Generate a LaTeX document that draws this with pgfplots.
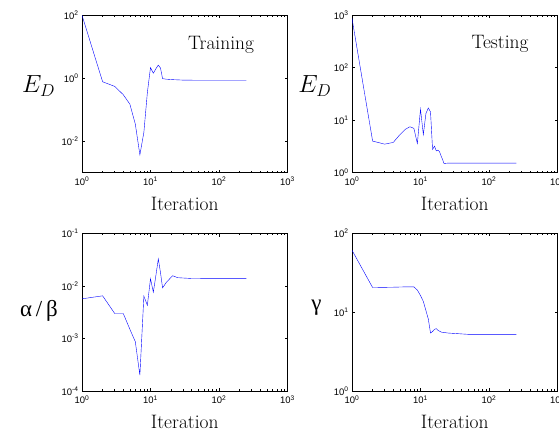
\documentclass[border=0pt]{standalone}
\usepackage{pgfplots}
\pgfplotsset{compat=1.18}
\usepackage{fontspec}
\newfontfamily\tf{Liberation Sans}
\newfontfamily\gf{Liberation Serif}
\newcommand{\tl}[1]{{\tf 10\textsuperscript{#1}}}
\newcommand{\bigf}{\fontsize{19.5}{22}\selectfont}
\begin{document}
\begin{tikzpicture}
\path[use as bounding box] (0bp,0bp) rectangle (559bp,432bp);
\pgfplotsset{
  every axis/.append style={
    scale only axis, width=205.5bp, height=157.5bp,
    xmode=log, ymode=log, xmin=1, xmax=1000,
    axis line style={line width=0.8pt},
    every tick/.style={black, line width=0.5pt},
    major tick length=3bp, minor tick length=1.6bp,
    yminorticks=false,
    tick align=inside,
    xtick={1,10,100,1000},
    xticklabels={\tl{0},\tl{1},\tl{2},\tl{3}},
    tick label style={font=\fontsize{9.5}{10}\selectfont},
    xticklabel style={yshift=-1bp},
    xlabel={Iteration},
    every axis x label/.style={at={(axis description cs:0.5,-0.152)}, anchor=north, inner sep=0pt, font=\bigf},
    every axis y label/.style={anchor=east, inner sep=0pt},
    no markers,
    cycle list={{blue, line width=0.8pt}},
  },
}
% Panel 1: Training E_D
\begin{axis}[at={(82bp,259.3bp)}, anchor=south west,
  ymin=1e-3, ymax=1e2, ytick={1e-2,1,1e2},
  yticklabels={\tl{-2},\tl{0},\tl{2}},
  ylabel={\fontsize{23}{25}\selectfont $E_D$},
  every axis y label/.append style={at={(axis description cs:-0.13,0.55)}}]
\addplot coordinates {
(1,100) (2,0.77) (3,0.55) (4,0.30) (5,0.15) (6,0.035) (7,0.0037) (8,0.019)
(9,0.35) (10,2.17) (11,1.44) (12,2.0) (13,2.6) (14,2.1) (15,0.97) (17,0.93)
(21,0.9) (30,0.87) (50,0.86) (100,0.86) (250,0.86)};
\node[anchor=base west, inner sep=0pt, font=\bigf] at (rel axis cs:0.516,0.782) {Training};
\end{axis}
% Panel 2: Testing E_D
\begin{axis}[at={(352bp,259.3bp)}, anchor=south west,
  ymin=1, ymax=1000, ytick={1,10,100,1000},
  yticklabels={\tl{0},\tl{1},\tl{2},\tl{3}},
  ylabel={\fontsize{23}{25}\selectfont $E_D$},
  every axis y label/.append style={at={(axis description cs:-0.1,0.55)}}]
\addplot coordinates {
(1,870) (2,4.0) (3,3.5) (4,3.77) (5,5.3) (6,6.7) (7,7.5) (8,7.0) (9,3.6)
(10,16.2) (11,5.3) (12,13.4) (13,17.1) (14,14.4) (15,2.77) (16,3.2) (17,2.6)
(18,2.7) (19,2.5) (20,2.07) (21,1.79) (22,1.5) (25,1.52) (50,1.52) (100,1.52) (250,1.52)};
\node[anchor=base west, inner sep=0pt, font=\bigf] at (rel axis cs:0.581,0.789) {Testing};
\end{axis}
% Panel 3: alpha/beta
\begin{axis}[at={(82bp,41bp)}, anchor=south west,
  ymin=1e-4, ymax=1e-1, ytick={1e-4,1e-3,1e-2,1e-1},
  yticklabels={\tl{-4},\tl{-3},\tl{-2},\tl{-1}},
  ylabel={\fontsize{23}{25}\gf α\,/\,β},
  every axis y label/.append style={at={(axis description cs:-0.117,0.51)}}]
\addplot coordinates {
(1,0.0057) (2,0.0065) (3,0.0030) (4,0.0030) (5,0.0015) (6,0.00087) (7,0.0002)
(8,0.0064) (9,0.0043) (10,0.0138) (11,0.0076) (12,0.016) (13,0.0328) (14,0.018)
(15,0.0092) (17,0.0117) (21,0.0157) (25,0.0144) (40,0.0139) (100,0.0138) (250,0.0138)};
\end{axis}
% Panel 4: gamma
\begin{axis}[at={(352bp,41bp)}, anchor=south west,
  ymin=1, ymax=100, ytick={1,10,100},
  yticklabels={\tl{0},\tl{1},\tl{2}},
  ylabel={\fontsize{23}{25}\gf γ},
  every axis y label/.append style={at={(axis description cs:-0.147,0.53)}}]
\addplot coordinates {
(1,61.3) (2,20.6) (4,20.8) (6,21) (8,21) (9,19.1) (10,16.3) (11,13.7) (12,10.5)
(13,8.2) (14,5.45) (15,5.7) (16,6.07) (17,6.2) (18,5.9) (20,5.6) (25,5.45)
(50,5.24) (100,5.24) (250,5.24)};
\end{axis}
\end{tikzpicture}
\end{document}
